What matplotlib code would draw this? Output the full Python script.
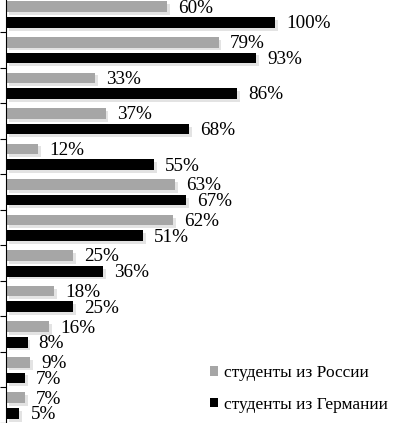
import matplotlib
matplotlib.use("Agg")
import matplotlib.pyplot as plt
import matplotlib.patheffects as pe
from matplotlib.patches import Patch
import numpy as np

plt.rcParams["font.family"] = ["Liberation Serif", "DejaVu Serif"]

# values per group, top to bottom
russia = [60, 79, 33, 37, 12, 63, 62, 25, 18, 16, 9, 7]
germany = [100, 93, 86, 68, 55, 67, 51, 36, 25, 8, 7, 5]
series_names = ["студенты из России", "студенты из Германии"]
colors = ["#a6a6a6", "#000000"]

W, H = 398, 423
fig = plt.figure(figsize=(W / 100, H / 100), dpi=100)
# axes spans 6px..398px horizontally, groups of ~35.5px with top edge slightly above the figure
ax = fig.add_axes([6 / W, 0, (W - 6) / W, 426.5 / H])

n = len(russia)
y = np.arange(n) + 0.5
h = 0.3
shadow = [pe.SimplePatchShadow(offset=(2, -2), shadow_rgbFace="#909090", alpha=0.25), pe.Normal()]

b1 = ax.barh(y - 0.21, russia, height=h, color=colors[0], path_effects=shadow)
b2 = ax.barh(y + 0.23, germany, height=h, color=colors[1], path_effects=shadow)

for bars, vals in ((b1, russia), (b2, germany)):
    for bar, v in zip(bars, vals):
        ax.annotate(f"{v}%", (bar.get_width(), bar.get_y() + bar.get_height() / 2),
                    xytext=(8, -1), textcoords="offset points",
                    va="center", ha="left", fontsize=13.8)

ax.set_xlim(0, (W - 6) / 2.69)
ax.set_ylim(n, 0)
ax.set_xticks([])
ax.set_yticks(np.arange(1, n + 1))
ax.set_yticklabels([])
ax.tick_params(axis="y", direction="out", length=4.5, width=0.8)
for s in ("top", "right", "bottom"):
    ax.spines[s].set_visible(False)
ax.spines["left"].set_linewidth(0.8)

handles = [Patch(facecolor=c, edgecolor="none") for c in colors]
ax.legend(handles, series_names, loc="lower left", bbox_to_anchor=(198 / W, -2 / H),
          bbox_transform=fig.transFigure, frameon=False, fontsize=12.5,
          handlelength=0.45, handleheight=0.45, handletextpad=0.35, labelspacing=0.9,
          borderpad=0.2)

fig.savefig("out.png", dpi=100)
